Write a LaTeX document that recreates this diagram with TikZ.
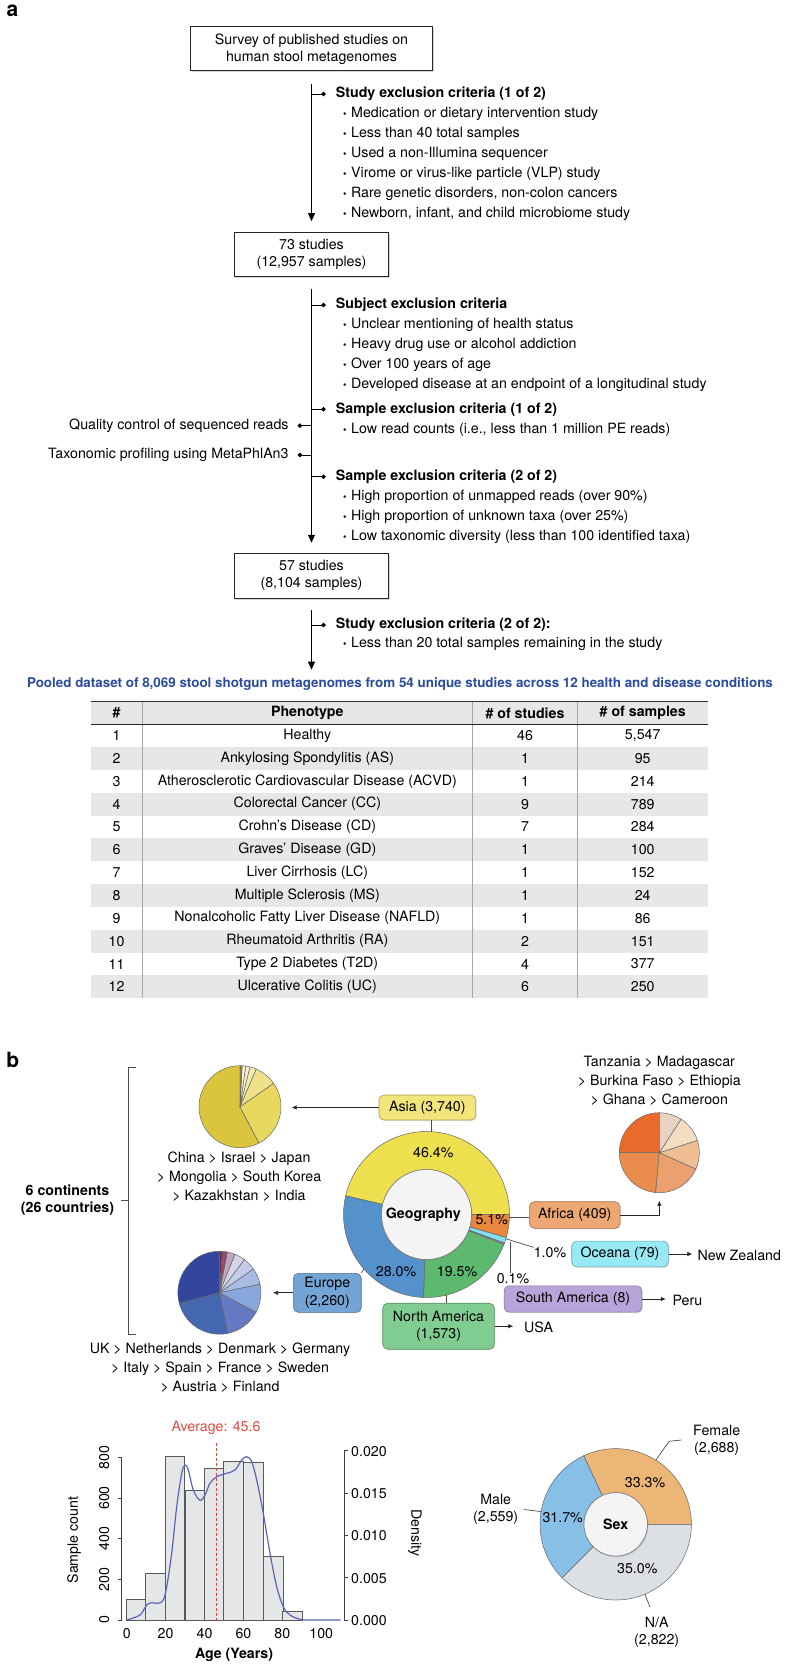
\documentclass[tikz,border=0pt]{standalone}
\usepackage{fontspec}
\setmainfont{TeX Gyre Heros}
\usetikzlibrary{positioning,shadows,arrows.meta,calc}

\definecolor{poolblue}{HTML}{2B4C9C}
\definecolor{rowgray}{HTML}{E7E7E7}
\definecolor{asiaring}{HTML}{EDDF4D}
\definecolor{euring}{HTML}{5591CA}
\definecolor{naring}{HTML}{5CB96F}
\definecolor{saring}{HTML}{A084CA}
\definecolor{ocring}{HTML}{80E2F0}
\definecolor{afring}{HTML}{E8873E}
\definecolor{asiabox}{HTML}{F2E57C}
\definecolor{afbox}{HTML}{ECA772}
\definecolor{ocbox}{HTML}{97EAF3}
\definecolor{sabox}{HTML}{B8A4D8}
\definecolor{nabox}{HTML}{80CC91}
\definecolor{eubox}{HTML}{72A5D6}
\definecolor{innerdisc}{HTML}{F4F4F4}
\definecolor{femclr}{HTML}{ECB676}
\definecolor{maleclr}{HTML}{88BFE7}
\definecolor{naclr}{HTML}{DCDFE3}
\definecolor{barfill}{HTML}{E5E6E8}
\definecolor{densblue}{HTML}{5C64B9}
\definecolor{avgred}{HTML}{DD4A40}
\definecolor{asA}{HTML}{DBC53D}
\definecolor{asB}{HTML}{E9D860}
\definecolor{asC}{HTML}{EFE18A}
\definecolor{asD}{HTML}{F3EAB2}
\definecolor{asE}{HTML}{F6F0CC}
\definecolor{asF}{HTML}{F9F5E0}
\definecolor{asG}{HTML}{9A8632}
\definecolor{euA}{HTML}{33459C}
\definecolor{euB}{HTML}{4566B0}
\definecolor{euC}{HTML}{6679C2}
\definecolor{euD}{HTML}{87A7DD}
\definecolor{euE}{HTML}{A9BAE3}
\definecolor{euF}{HTML}{C3CCE9}
\definecolor{euG}{HTML}{D3D6E8}
\definecolor{euH}{HTML}{BFA6C0}
\definecolor{euI}{HTML}{8F4E6E}
\definecolor{euJ}{HTML}{6A2B47}
\definecolor{afA}{HTML}{E96B2B}
\definecolor{afB}{HTML}{E98C4C}
\definecolor{afC}{HTML}{EBA070}
\definecolor{afD}{HTML}{EFBE93}
\definecolor{afE}{HTML}{F4DEC2}
\definecolor{afF}{HTML}{E6D3C6}

\newcommand{\bulletmk}{\scalebox{0.7}{\textbullet}\hspace{4.5pt}}
\newcommand{\wedgepart}[5]{\filldraw[fill=#5, draw=black!60, line width=0.5pt] (#1) -- ($(#1)+(#3:#2)$) arc[start angle=#3, end angle=#4, radius=#2] -- cycle;}
\newcommand{\ringpart}[6]{\filldraw[fill=#6, draw=black!60, line width=0.5pt] ($(#1)+(#4:#2)$) arc[start angle=#4, end angle=#5, radius=#2] -- ($(#1)+(#5:#3)$) arc[start angle=#5, end angle=#4, radius=#3] -- cycle;}

\begin{document}
\begin{tikzpicture}[x=1pt, y=1pt,
    every node/.style={font=\fontsize{14.2}{17}\selectfont, inner sep=0pt},
    boldtext/.style={font=\fontsize{14.2}{17}\selectfont\bfseries},
    flowbox/.style={rectangle, draw=black!85, fill=white, line width=1.1pt, align=center, drop shadow={shadow xshift=1.3pt, shadow yshift=-1.3pt, opacity=0.3}},
    flowarrow/.style={line width=1pt, -{Triangle[length=8pt, width=7pt]}},
    branch/.style={line width=0.9pt, -{Circle[length=4.4pt]}},
    critline/.style={anchor=west},
    colline/.style={draw=black!35, line width=0.8pt},
    contbox/.style={rectangle, rounded corners=5pt, fill=#1, draw=#1!70!black, line width=0.6pt, align=center, drop shadow={shadow xshift=1pt, shadow yshift=-1pt, opacity=0.25}},
    leader/.style={draw=black!70, line width=0.7pt},
    smallarrow/.style={draw=black!85, line width=0.7pt, -{Latex[length=5pt, width=4.5pt]}},
    innerdisc/.style={fill=innerdisc, draw=black!55, line width=0.5pt, drop shadow={shadow xshift=1pt, shadow yshift=-1.5pt, opacity=0.2}},
    countries/.style={align=center, font=\fontsize{14.2}{19}\selectfont},
    axisln/.style={draw=black!75, line width=0.6pt}
]
\useasboundingbox (0,0) rectangle (800,-1667);

\node[font=\fontsize{21}{21}\selectfont\bfseries] (panela) at (12.5,-11) {a};
\node[flowbox, minimum width=242pt, minimum height=44.3pt] (survey) at (311.5,-48.8) {Survey of published studies on\\human stool metagenomes};
\node[flowbox, minimum width=154.7pt, minimum height=44.4pt] (studies73) at (311.5,-254.5) {73 studies\\(12,957 samples)};
\node[flowbox, minimum width=154.7pt, minimum height=45pt] (studies57) at (311.5,-575.8) {57 studies\\(8,104 samples)};
\node[text=poolblue, font=\fontsize{13.4}{16}\selectfont\bfseries] (pooled) at (400,-684.3) {Pooled dataset of 8,069 stool shotgun metagenomes from 54 unique studies across 12 health and disease conditions};

\draw[flowarrow, shorten <=12.3pt, shorten >=10.6pt] (survey) -- (studies73);
\draw[flowarrow, shorten <=11.6pt, shorten >=10pt] (studies73) -- (studies57);
\draw[flowarrow, shorten <=11pt, shorten >=8pt] (studies57) -- (studies57 |- pooled.north);

\coordinate (crit1) at (325.7,-94);
\coordinate (crit2) at (325.7,-305);
\coordinate (crit3) at (325.7,-409.3);
\coordinate (crit4) at (325.7,-476.7);
\coordinate (crit5) at (325.7,-625);
\coordinate (qc) at (297.7,-425.7);
\coordinate (tax) at (297.7,-455);
\foreach \c in {crit1,crit2,crit3,crit4,crit5,qc,tax}
    \draw[branch] (\c -| survey) -- (\c);

\node[boldtext, right=10pt of crit1] (head1) {Study exclusion criteria (1 of 2)};
\node[boldtext, right=10pt of crit2] (head2) {Subject exclusion criteria};
\node[boldtext, right=10pt of crit3] (head3) {Sample exclusion criteria (1 of 2)};
\node[boldtext, right=10pt of crit4] (head4) {Sample exclusion criteria (2 of 2)};
\node[boldtext, right=10pt of crit5] (head5) {Study exclusion criteria (2 of 2):};
\node[left=9pt of qc] (qctext) {Quality control of sequenced reads};
\node[left=9pt of tax] (taxtext) {Taxonomic profiling using MetaPhlAn3};

\foreach \txt [count=\k] in {Medication or dietary intervention study, Less than 40 total samples, Used a non-Illumina sequencer, Virome or virus-like particle (VLP) study, {Rare genetic disorders, non-colon cancers}, {Newborn, infant, and child microbiome study}}
    \node[critline] (studyitem\k) at (343,{-113.5-20*(\k-1)}) {\bulletmk\txt};
\foreach \txt [count=\k] in {Unclear mentioning of health status, Heavy drug use or alcohol addiction, Over 100 years of age, Developed disease at an endpoint of a longitudinal study}
    \node[critline] (subjitem\k) at (343,{-324.5-20*(\k-1)}) {\bulletmk\txt};
\node[critline] (sampitem1) at (343,-430) {\bulletmk Low read counts (i.e., less than 1 million PE reads)};
\foreach \txt [count=\k] in {High proportion of unmapped reads (over 90\%), High proportion of unknown taxa (over 25\%), Low taxonomic diversity (less than 100 identified taxa)}
    \node[critline] (sampitem2\k) at (343,{-497.3-20*(\k-1)}) {\bulletmk\txt};
\node[critline] (studyitem7) at (343,-644) {\bulletmk Less than 20 total samples remaining in the study};

\fill[rowgray] (90.7,-701.7) rectangle (707.7,-724.3);
\node[boldtext] (hnum) at (116.5,-713) {\#};
\node[boldtext] (hphe) at (307.3,-713) {Phenotype};
\node[boldtext] (hnst) at (525,-713) {\# of studies};
\node[boldtext] (hnsa) at (642.7,-713) {\# of samples};
\foreach \num/\pheno/\nst/\nsa in {1/Healthy/46/{5,547}, 2/Ankylosing Spondylitis (AS)/1/95, 3/Atherosclerotic Cardiovascular Disease (ACVD)/1/214, 4/Colorectal Cancer (CC)/9/789, 5/Crohn’s Disease (CD)/7/284, 6/Graves’ Disease (GD)/1/100, 7/Liver Cirrhosis (LC)/1/152, 8/Multiple Sclerosis (MS)/1/24, 9/Nonalcoholic Fatty Liver Disease (NAFLD)/1/86, 10/Rheumatoid Arthritis (RA)/2/151, 11/Type 2 Diabetes (T2D)/4/377, 12/Ulcerative Colitis (UC)/6/250}{
    \ifodd\num\else\fill[rowgray] (90.7,{-724.3-22.83*(\num-1)}) rectangle (707.7,{-724.3-22.83*\num});\fi
    \node (num\num) at (116.5,{-735.7-22.83*(\num-1)}) {\num};
    \node (phe\num) at (307.3,{-735.7-22.83*(\num-1)}) {\pheno};
    \node (nst\num) at (525,{-735.7-22.83*(\num-1)}) {\nst};
    \node (nsa\num) at (642.7,{-735.7-22.83*(\num-1)}) {\nsa};
}
\foreach \cx in {142.3,472.3,577.7}
    \draw[colline] (\cx,-701.7) -- (\cx,-998.3);
\draw[black!80, line width=1.2pt] (90.7,-701.7) -- (707.7,-701.7);
\draw[black!85, line width=1.6pt] (90.7,-724.3) -- (707.7,-724.3);

\node[font=\fontsize{21}{21}\selectfont\bfseries] (panelb) at (12.7,-1060) {b};
\draw[leader] (136,-1067.3) -- (128.3,-1067.3) -- (128.3,-1334) -- (136,-1334);
\coordinate (brace) at (128.3,-1200);
\draw[leader] (brace) -- ++(-7.3,0);
\node[boldtext, align=center] (continents) at (67.5,-1200.5) {6 continents\\(26 countries)};

\coordinate (geo) at (426.5,-1214.5);
\ringpart{geo}{83}{45}{0}{167}{asiaring}
\ringpart{geo}{83}{45}{167}{268}{euring}
\ringpart{geo}{83}{45}{268}{339}{naring}
\ringpart{geo}{83}{45}{339}{340}{saring}
\ringpart{geo}{83}{45}{340}{344}{ocring}
\ringpart{geo}{83}{45}{344}{360}{afring}
\filldraw[innerdisc] (geo) circle (45);
\node[boldtext] (geolbl) at (423.3,-1214.3) {Geography};
\node (pctasia) at (433.3,-1152.3) {46.4\%};
\node (pctafr) at (491.7,-1220) {5.1\%};
\node (pcteu) at (396,-1271.7) {28.0\%};
\node (pctna) at (457,-1271.7) {19.5\%};

\node[contbox=asiabox, minimum width=96.7pt, minimum height=25pt] (asia) at (427.3,-1107.5) {Asia (3,740)};
\coordinate (asiapie) at (240,-1106.7);
\foreach \a/\b/\c in {90/297.6/asA, 297.6/394.8/asB, 394.8/426.8/asC, 426.8/436/asD, 436/442/asE, 442/447/asF, 447/450/asG}
    \wedgepart{asiapie}{41}{\a}{\b}{\c}
\path (geo) ++(87:83) coordinate (ringA);
\draw[leader] (ringA) -- (ringA |- asia.south);
\draw[smallarrow, shorten >=51.7pt] (asia.west) -- (asia.west -| asiapie);
\node[countries] (asiatxt) at (239,-1176.7) {China > Israel > Japan\\> Mongolia > South Korea\\> Kazakhstan > India};

\node[contbox=afbox, minimum width=90.7pt, minimum height=26.6pt] (africa) at (574.7,-1215) {Africa (409)};
\coordinate (afrpie) at (659.3,-1152.7);
\foreach \a/\b/\c in {90/180/afA, 180/264.7/afB, 264.7/336/afC, 336/378/afD, 378/417/afE, 417/450/afF}
    \wedgepart{afrpie}{40}{\a}{\b}{\c}
\path (geo) ++(-2.2:83) coordinate (ringF);
\draw[leader] (ringF) -- (ringF -| africa.west);
\draw[smallarrow, shorten >=48pt] (africa.east) -| (afrpie);
\node[countries] (afrtxt) at (659.3,-1080.7) {Tanzania > Madagascar\\> Burkina Faso > Ethiopia\\> Ghana > Cameroon};

\node[contbox=ocbox, minimum width=96.6pt, minimum height=25.7pt] (oceania) at (620,-1254) {Oceana (79)};
\node (pctoce) at (550,-1252.7) {1.0\%};
\path (geo) ++(-17:83) coordinate (ringO);
\draw[leader] (ringO) -- (pctoce.north west);
\node[anchor=west] (nz) at (697.3,-1255) {New Zealand};
\draw[smallarrow, shorten >=5pt] (oceania.east) -- (oceania.east -| nz.west);

\node (pctsam) at (513,-1278.3) {0.1\%};
\coordinate (ringS) at (510,-1241.7);
\draw[leader] (ringS) -- (ringS |- pctsam.north);
\node[contbox=sabox, minimum width=137.8pt, minimum height=26.3pt] (samerica) at (573,-1299) {South America (8)};
\node[anchor=west] (peru) at (672.4,-1300) {Peru};
\draw[smallarrow, shorten >=6.6pt] (samerica.east) -- (samerica.east -| peru.west);

\node[contbox=nabox, minimum width=111.6pt, minimum height=46pt, font=\fontsize{14.2}{17.5}\selectfont] (namerica) at (438.5,-1326.2) {North America\\(1,573)};
\path (geo) ++(284:83) coordinate (ringN);
\draw[leader] (ringN) -- (ringN |- namerica.north);
\node[anchor=west] (usa) at (524,-1327) {USA};
\draw[smallarrow, shorten >=10.7pt] (namerica.east) -- (namerica.east -| usa.west);

\node[contbox=eubox, minimum width=67.8pt, minimum height=39pt, font=\fontsize{14.2}{17.5}\selectfont] (europe) at (327.3,-1292.8) {Europe\\(2,260)};
\coordinate (eupie) at (219.4,-1292.7);
\foreach \a/\b/\c in {90/195/euA, 195/282/euB, 282/332/euC, 332/372/euD, 372/395/euE, 395/413/euF, 413/428/euG, 428/439/euH, 439/446/euI, 446/450/euJ}
    \wedgepart{eupie}{41.5}{\a}{\b}{\c}
\path (geo) ++(221:83) coordinate (ringE);
\draw[leader] (ringE) -- (europe.north east);
\draw[smallarrow, shorten >=53.6pt] (europe.west) -- (europe.west -| eupie);
\node[countries] (eutxt) at (220,-1367.7) {UK > Netherlands > Denmark > Germany\\> Italy > Spain > France > Sweden\\> Austria > Finland};

\foreach \xa/\top in {126.7/1599.5, 145.7/1573.3, 165/1456.7, 185/1490.3, 204.3/1468, 223.7/1461, 243.3/1462.7, 263.3/1556.3, 282.7/1611.7}
    \filldraw[fill=barfill, draw=black!65, line width=0.6pt] (\xa,-1620) rectangle ++(19.5,{1620-\top});
\draw[densblue, line width=1.2pt] plot[smooth, tension=0.55] coordinates {(126.7,-1620) (140,-1615) (146.7,-1605) (151.7,-1602.7) (158.3,-1603.3) (163.3,-1600) (166.7,-1586.7) (171.7,-1553.3) (176.7,-1506.7) (181.7,-1473.3) (185,-1465) (188.3,-1470) (193.3,-1490) (200,-1500.3) (205,-1495) (210,-1483.3) (216.7,-1476.7) (226.7,-1473.3) (235,-1470) (241.7,-1460) (246.7,-1456.7) (251.7,-1461.7) (256.7,-1480) (263.3,-1513.3) (270,-1553.3) (276.7,-1586.7) (283.3,-1606.7) (290,-1615) (300,-1619.3) (310,-1620) (340.7,-1620)};
\node[text=avgred] (avglbl) at (216,-1428) {Average: 45.6};
\draw[avgred, line width=0.8pt, dash pattern=on 3pt off 2pt] ([yshift=-7.7pt]avglbl.south) -- (avglbl.south |- 0,-1620);

\draw[axisln] (121.7,-1620) -- (121.7,-1457.3);
\foreach \c [count=\k from 0] in {0,200,400,600,800}{
    \draw[axisln] (121.7,{-1620+40.675*\k}) -- ++(-3.5,0);
    \node[rotate=90] (ytick\k) at (104.3,{-1620+40.675*\k}) {\c};
}
\node[rotate=90] (ylabel) at (74,-1540) {Sample count};
\draw[axisln] (344.3,-1620) -- (344.3,-1450.7);
\foreach \d [count=\k from 0] in {0.000,0.005,0.010,0.015,0.020}{
    \draw[axisln] (344.3,{-1620+42.33*\k}) -- ++(3.5,0);
    \node[anchor=west] (dtick\k) at (351,{-1620.7+42.33*\k}) {\d};
}
\node[rotate=-90] (dlabel) at (415,-1533) {Density};
\foreach \a in {0,20,...,100}
    \node (xtick\a) at ({126.7+1.945*\a},-1634) {\a};
\node[boldtext] (xlabel) at (234,-1655) {Age (Years)};

\coordinate (sexc) at (615.7,-1524.3);
\ringpart{sexc}{75.7}{31.7}{0}{115}{femclr}
\ringpart{sexc}{75.7}{31.7}{115}{225}{maleclr}
\ringpart{sexc}{75.7}{31.7}{225}{360}{naclr}
\filldraw[innerdisc] (sexc) circle (31.7);
\node[boldtext] (sexlbl) at (sexc) {Sex};
\node (pctfem) at (645,-1482.7) {33.3\%};
\node (pctmale) at (562.7,-1517.7) {31.7\%};
\node (pctna) at (637.3,-1569) {35.0\%};

\node[align=center] (female) at (716.7,-1440) {Female\\(2,688)};
\path (sexc) ++(58:76) coordinate (ringFe);
\draw[leader] (ringFe) -- ++(13.2,18.6) -- ([xshift=-11.7pt]female.west);
\node[align=center] (male) at (495.7,-1509.5) {Male\\(2,559)};
\path (sexc) ++(170.3:75.7) coordinate (ringMa);
\draw[leader] (ringMa) -- ([xshift=5.6pt]male.east);
\node[align=center] (nalbl) at (656.7,-1632.8) {N/A\\(2,822)};
\path (sexc) ++(-67.3:75.7) coordinate (ringNa);
\coordinate (naend) at (650,-1607.3);
\draw[leader] (ringNa) -- (naend);
\end{tikzpicture}
\end{document}
